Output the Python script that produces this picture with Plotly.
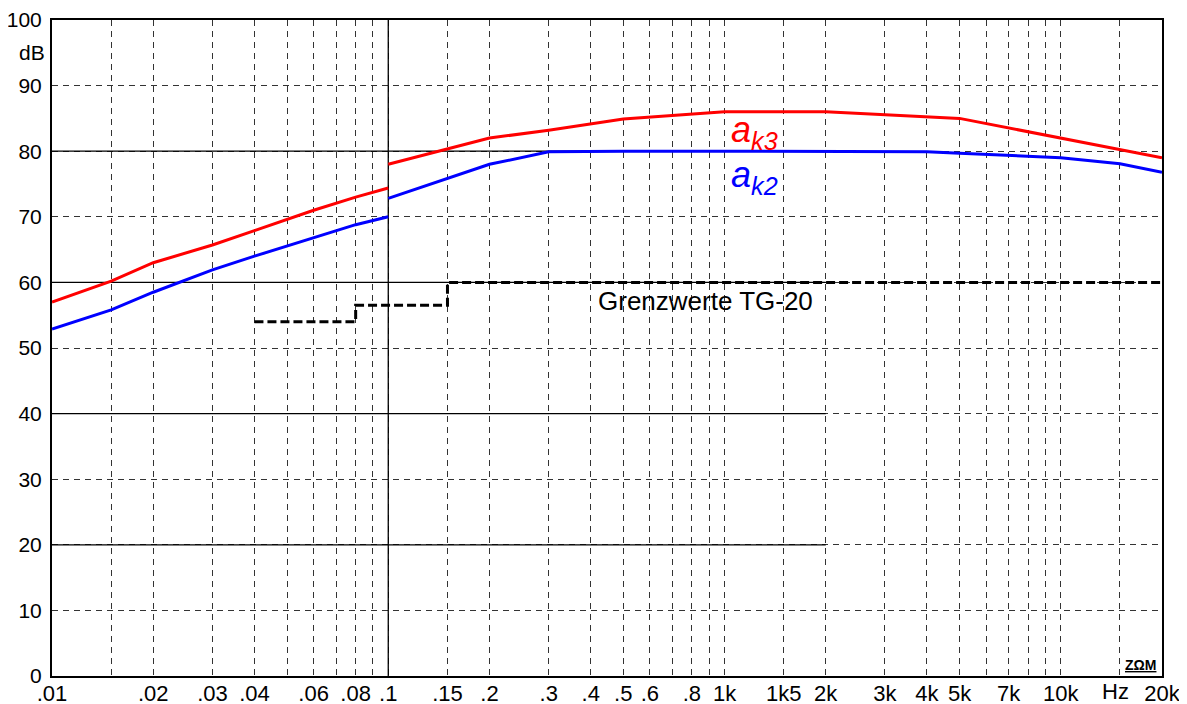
import numpy as np
import plotly.graph_objects as go

# ---- data (frequency in kHz, level in dB) ----
red_x_low = [0.01, 0.015, 0.02, 0.03, 0.04, 0.06, 0.08, 0.1]
red_y_low = [57.0, 60.2, 63.0, 65.7, 67.9, 71.0, 73.0, 74.4]
red_x_high = [0.1, 0.15, 0.2, 0.3, 0.5, 1, 2, 5, 10, 20]
red_y_high = [78.0, 80.3, 82.0, 83.2, 84.9, 86.0, 86.0, 85.0, 82.0, 79.0]

blue_x_low = [0.01, 0.015, 0.02, 0.03, 0.04, 0.06, 0.08, 0.1]
blue_y_low = [52.9, 55.8, 58.5, 61.9, 64.0, 66.8, 68.8, 70.0]
blue_x_high = [0.1, 0.15, 0.2, 0.3, 0.4, 0.5, 1, 2, 3, 4, 5, 7, 10, 15, 20]
blue_y_high = [72.8, 75.8, 78.0, 79.9, 80.0, 80.0, 80.0, 80.0, 80.0, 79.9, 79.7, 79.4, 79.0, 78.1, 76.8]

tg_x = [0.04, 0.08, 0.08, 0.15, 0.15, 20]
tg_y = [54, 54, 56.5, 56.5, 60, 60]

x_tickvals = [0.01, 0.02, 0.03, 0.04, 0.06, 0.08, 0.1, 0.15, 0.2, 0.3, 0.4, 0.5, 0.6, 0.8,
              1, 1.5, 2, 3, 4, 5, 7, 10, 20]
x_ticktext = ['.01', '.02', '.03', '.04', '.06', '.08', '.1', '.15', '.2', '.3', '.4', '.5', '.6', '.8',
              '1k', '1k5', '2k', '3k', '4k', '5k', '7k', '10k', '20k']
x_minor = [0.015, 0.05, 0.07, 0.09, 0.7, 0.9, 6, 8, 9, 15]
y_tickvals = [0, 10, 20, 30, 40, 50, 60, 70, 80, 90, 100]

solid_h_levels = [20, 40, 60, 80]
solid_h_span = [0.01, 2]
solid_v_pos = 0.1

x_min, x_max = 0.01, 20
y_min, y_max = 0, 100

FONT = "Liberation Sans, Arial, sans-serif"
GRID = "#333333"

fig = go.Figure()

# solid grid segments
for lv in solid_h_levels:
    fig.add_trace(go.Scatter(x=solid_h_span, y=[lv, lv], mode="lines",
                             line=dict(color="black", width=1.3), hoverinfo="skip", showlegend=False))
fig.add_trace(go.Scatter(x=[solid_v_pos, solid_v_pos], y=[y_min, y_max], mode="lines",
                         line=dict(color="black", width=1.3), hoverinfo="skip", showlegend=False))

# TG-20 limits
fig.add_trace(go.Scatter(x=tg_x, y=tg_y, mode="lines",
                         line=dict(color="black", width=3, dash="9px,4px"), showlegend=False))

# curves
fig.add_trace(go.Scatter(x=blue_x_low + [None] + blue_x_high, y=blue_y_low + [None] + blue_y_high,
                         mode="lines", line=dict(color="#0000ff", width=3), connectgaps=False,
                         showlegend=False))
fig.add_trace(go.Scatter(x=red_x_low + [None] + red_x_high, y=red_y_low + [None] + red_y_high,
                         mode="lines", line=dict(color="#ff0000", width=3), connectgaps=False,
                         showlegend=False))

fig.update_layout(
    width=1179, height=696,
    margin=dict(l=44, r=25, t=12, b=28),
    paper_bgcolor="white", plot_bgcolor="white",
    font=dict(family=FONT, size=20, color="black"),
    xaxis=dict(type="log", range=[np.log10(x_min), np.log10(x_max)], automargin=False,
               tickmode="array", tickvals=x_tickvals, ticktext=x_ticktext,
               showgrid=True, gridcolor=GRID, gridwidth=1.3, griddash="6px,5px",
               minor=dict(tickmode="array", tickvals=x_minor, showgrid=True,
                          gridcolor=GRID, gridwidth=1.3, griddash="6px,5px", ticks=""),
               showline=True, linecolor="black", linewidth=2, mirror=True,
               ticks="", ticklabelstandoff=-3, zeroline=False,
               tickfont=dict(family=FONT, size=22)),
    yaxis=dict(range=[y_min, y_max], tickmode="array", tickvals=y_tickvals, automargin=False,
               showgrid=True, gridcolor=GRID, gridwidth=1.3, griddash="6px,5px",
               showline=True, linecolor="black", linewidth=2, mirror=True,
               ticks="", ticklabelstandoff=4, zeroline=False,
               tickfont=dict(family=FONT, size=21)),
)

fig.add_annotation(xref="paper", yref="y", x=0, y=95, text="dB", showarrow=False,
                   xanchor="right", xshift=-5, font=dict(family=FONT, size=21))
fig.add_annotation(xref="paper", yref="paper", x=1, y=0, text="Hz", showarrow=False,
                   xanchor="right", yanchor="top", xshift=-31, yshift=-1,
                   font=dict(family=FONT, size=22))
fig.add_annotation(xref="x", yref="y", x=np.log10(0.88), y=57.2, text="Grenzwerte TG-20",
                   showarrow=False, xanchor="center", font=dict(family=FONT, size=26))
fig.add_annotation(xref="x", yref="y", x=np.log10(1.03), y=83.0, text="<i>a<sub>k3</sub></i>",
                   showarrow=False, xanchor="left", font=dict(family=FONT, size=36, color="#ff0000"))
fig.add_annotation(xref="x", yref="y", x=np.log10(1.03), y=76.1, text="<i>a<sub>k2</sub></i>",
                   showarrow=False, xanchor="left", font=dict(family=FONT, size=36, color="#0000ff"))
fig.add_annotation(xref="paper", yref="paper", x=1, y=0, text="<u><b>ZΩM</b></u>",
                   showarrow=False, xanchor="right", yanchor="bottom", xshift=-4, yshift=1,
                   font=dict(family=FONT, size=14))

fig.write_html("out.html")
